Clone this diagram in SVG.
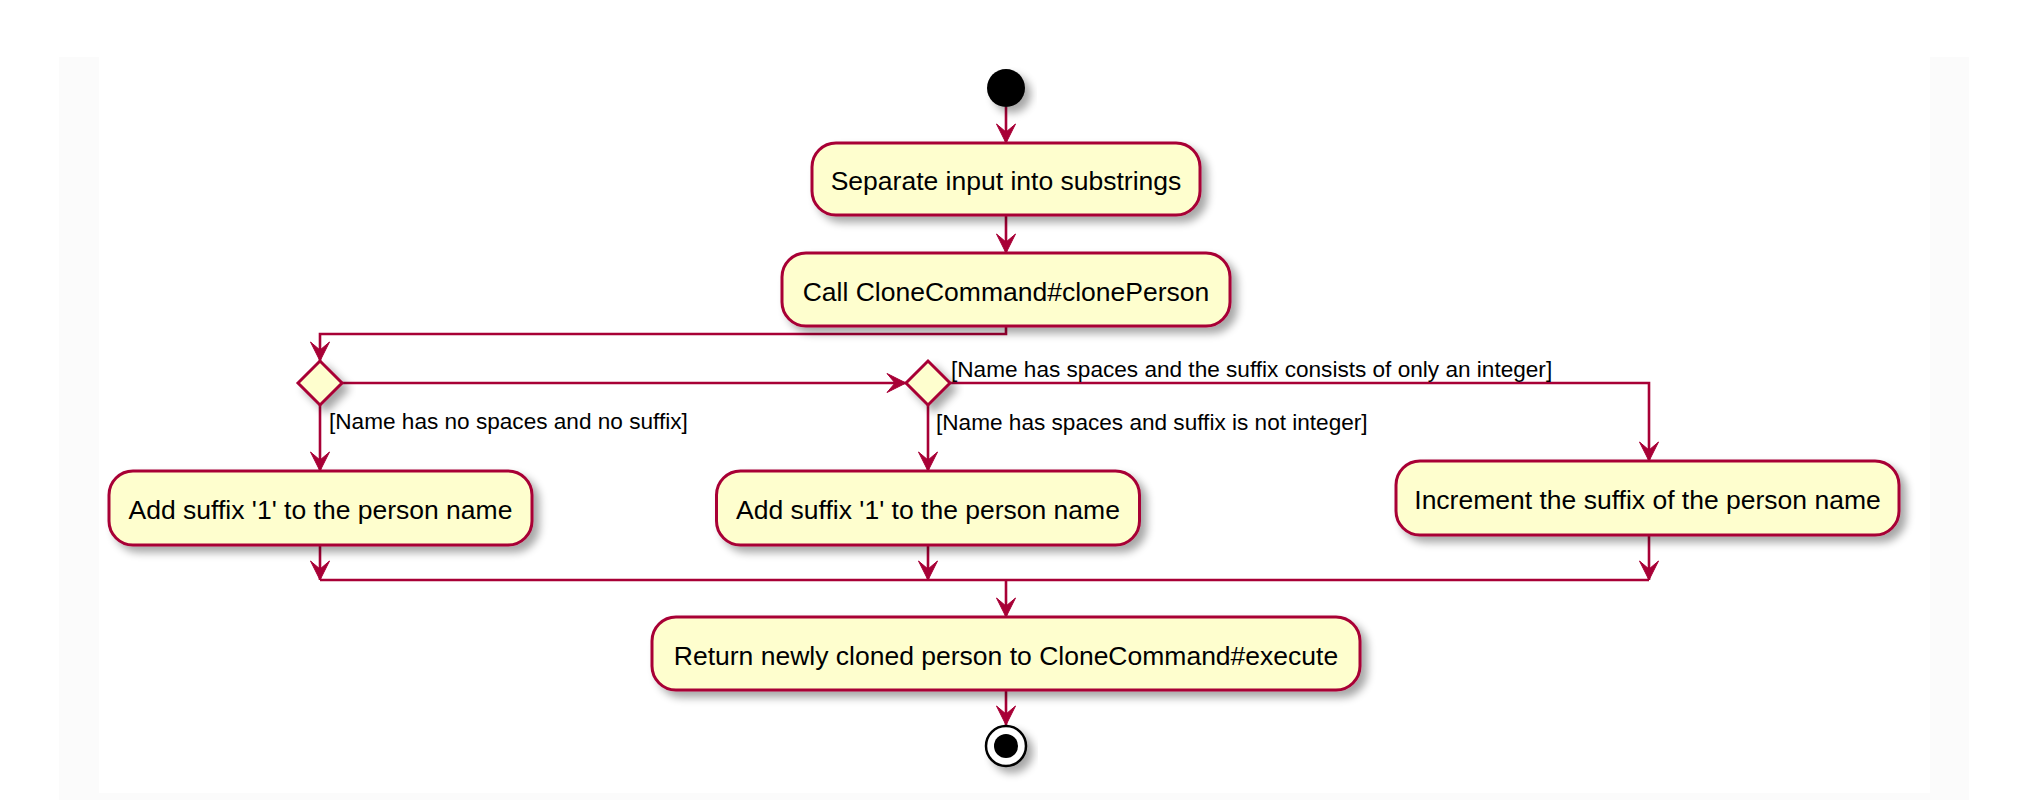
<svg xmlns="http://www.w3.org/2000/svg" width="2020" height="800" viewBox="0 0 2020 800">
<defs>
<style>
.box{fill:#FEFECE;stroke:#A80036;stroke-width:3;filter:url(#sh)}
.dia{fill:#FEFECE;stroke:#A80036;stroke-width:3;filter:url(#sh)}
.t{font-family:"Liberation Sans",Arial,sans-serif;font-size:26.5px;fill:#000;text-anchor:middle}
.lbl{font-family:"Liberation Sans",Arial,sans-serif;font-size:22.6px;fill:#000}
.c{fill:none;stroke:#A80036;stroke-width:2.6}
.a{marker-end:url(#arr)}
</style>
<filter id="sh" x="-20%" y="-20%" width="150%" height="160%">
<feGaussianBlur in="SourceAlpha" stdDeviation="4"/>
<feOffset dx="6" dy="6" result="b"/>
<feComponentTransfer><feFuncA type="linear" slope="0.35"/></feComponentTransfer>
<feMerge><feMergeNode/><feMergeNode in="SourceGraphic"/></feMerge>
</filter>
<marker id="arr" viewBox="-20 -10 21 20" refX="0" refY="0" markerWidth="21" markerHeight="20" markerUnits="userSpaceOnUse" orient="auto" overflow="visible">
<path d="M0,0 L-19,-9.5 L-11,0 L-19,9.5 Z" fill="#A80036" stroke="#A80036" stroke-width="1"/>
</marker>
</defs>
<rect x="59" y="57" width="1910" height="743" fill="#fbfbfb"/>
<rect x="99" y="57" width="1831" height="736" fill="#ffffff"/>

<g id="connectors">
<line class="c a" x1="1006" y1="107" x2="1006" y2="143"/>
<line class="c a" x1="1006" y1="215" x2="1006" y2="253"/>
<polyline class="c a" points="1006,326 1006,334 320,334 320,361"/>
<line class="c a" x1="342" y1="383" x2="906" y2="383"/>
<line class="c a" x1="320" y1="405" x2="320" y2="471"/>
<text class="lbl" x="329" y="429">[Name has no spaces and no suffix]</text>
<line class="c a" x1="928" y1="405" x2="928" y2="471"/>
<text class="lbl" x="936" y="430">[Name has spaces and suffix is not integer]</text>
<polyline class="c a" points="950,383 1649,383 1649,461"/>
<text class="lbl" x="951" y="377">[Name has spaces and the suffix consists of only an integer]</text>
<line class="c a" x1="320" y1="545" x2="320" y2="580"/>
<line class="c a" x1="928" y1="545" x2="928" y2="580"/>
<line class="c a" x1="1649" y1="535" x2="1649" y2="580"/>
<line class="c" x1="320" y1="580" x2="1649" y2="580"/>
<line class="c a" x1="1006" y1="580" x2="1006" y2="617"/>
<line class="c a" x1="1006" y1="690" x2="1006" y2="725"/>
</g>

<g id="start"><circle cx="1006" cy="88" r="19" fill="#000" filter="url(#sh)"/></g>

<g id="n1"><rect class="box" x="812" y="143" width="388" height="72" rx="24"/><text class="t" x="1006" y="190">Separate input into substrings</text></g>
<g id="n2"><rect class="box" x="782" y="253" width="448" height="73" rx="24"/><text class="t" x="1006" y="300.5">Call CloneCommand#clonePerson</text></g>

<g id="d1"><polygon class="dia" points="298,383 320,361 342,383 320,405"/></g>
<g id="d2"><polygon class="dia" points="906,383 928,361 950,383 928,405"/></g>

<g id="nA"><rect class="box" x="109" y="471" width="423" height="74" rx="24"/><text class="t" x="320.5" y="519">Add suffix '1' to the person name</text></g>
<g id="nB"><rect class="box" x="716.5" y="471" width="423" height="74" rx="24"/><text class="t" x="928" y="519">Add suffix '1' to the person name</text></g>
<g id="nC"><rect class="box" x="1396" y="461" width="503" height="74" rx="24"/><text class="t" x="1647.5" y="509">Increment the suffix of the person name</text></g>

<g id="n3"><rect class="box" x="652" y="617" width="708" height="73" rx="24"/><text class="t" x="1006" y="664.5">Return newly cloned person to CloneCommand#execute</text></g>

<g id="end"><circle cx="1006" cy="746" r="20" fill="#fff" stroke="#000" stroke-width="2.5" filter="url(#sh)"/><circle cx="1006" cy="746" r="12" fill="#000"/></g>
</svg>
